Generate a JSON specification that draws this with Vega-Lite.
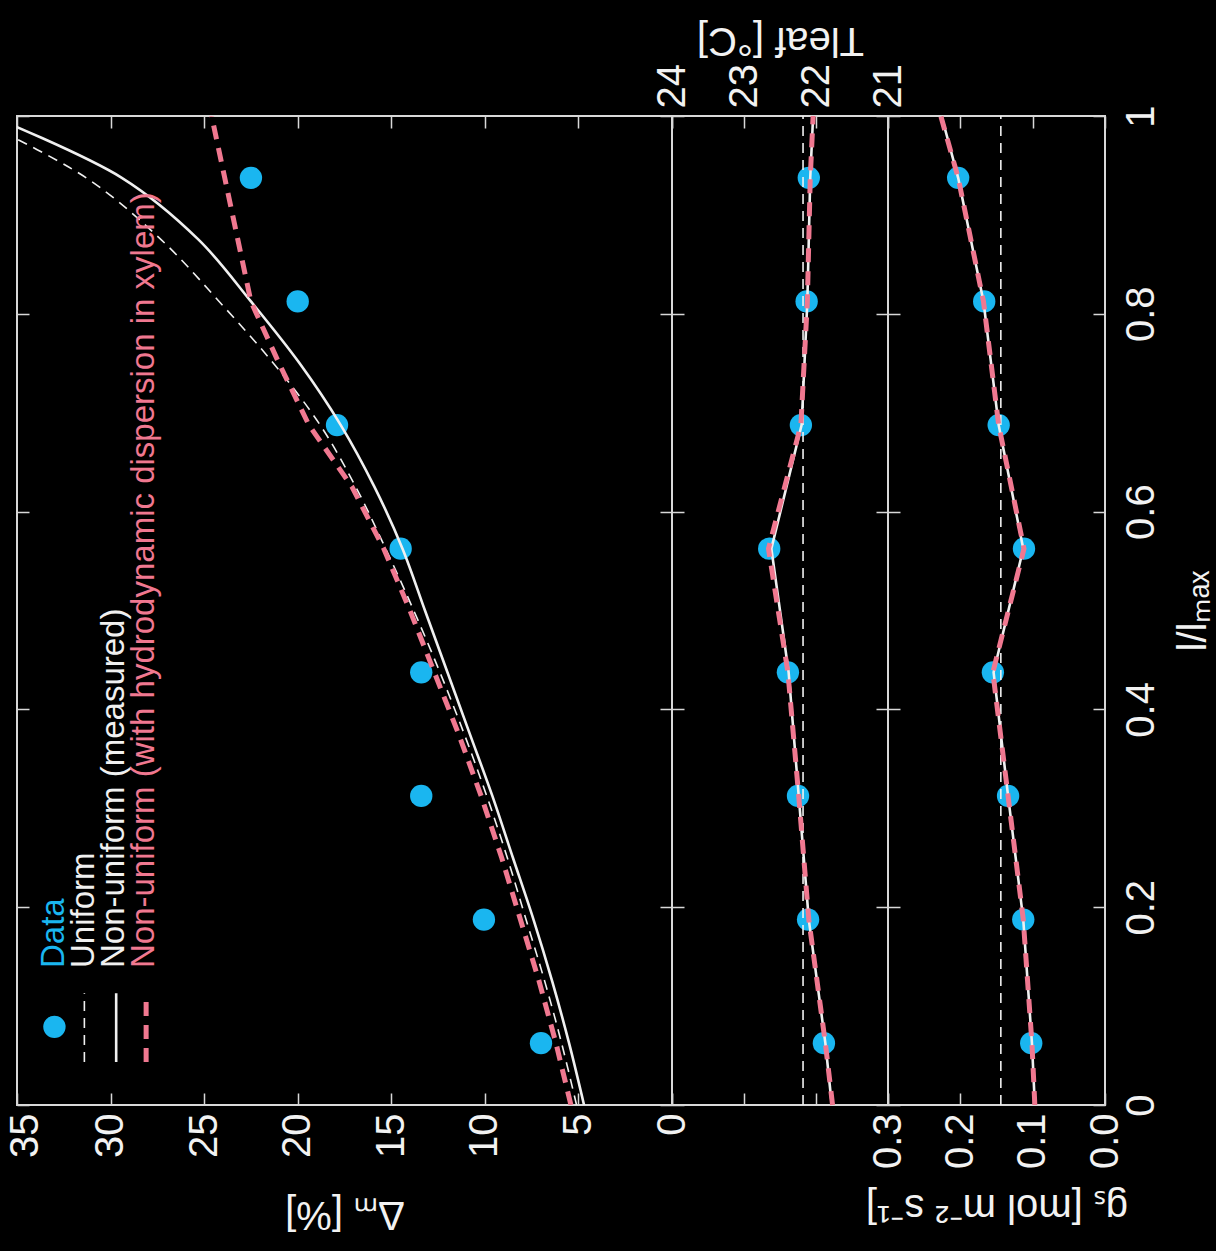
{
  "$schema": "https://vega.github.io/schema/vega-lite/v6.json",
  "background": "black",
  "padding": {"left": 4, "top": 18, "right": 2, "bottom": 16},
  "spacing": 0,
  "bounds": "flush",
  "config": {
    "view": {"stroke": "#d8d8d8", "strokeWidth": 2},
    "axis": {"domain": false, "grid": false, "tickColor": "#d8d8d8", "tickWidth": 1.5, "tickSize": -12, "labelColor": "#f2f2f2", "titleColor": "#f2f2f2", "labelFont": "Liberation Sans", "titleFont": "Liberation Sans", "labelFontSize": 40, "titleFontSize": 40, "titleFontWeight": "normal"},
    "text": {"font": "Liberation Sans"}
  },
  "datasets": {
    "dpts": [
      {"l": 0.0625, "v": 7.0}, {"l": 0.1875, "v": 10.05}, {"l": 0.3125, "v": 13.4}, {"l": 0.4375, "v": 13.4},
      {"l": 0.5625, "v": 14.5}, {"l": 0.6875, "v": 17.9}, {"l": 0.8125, "v": 20.0}, {"l": 0.9375, "v": 22.5}
    ],
    "dcur": [
      {"s": "uniform", "l": 0, "v": 5.1}, {"s": "uniform", "l": 0.0625, "v": 5.9}, {"s": "uniform", "l": 0.125, "v": 6.8}, {"s": "uniform", "l": 0.1875, "v": 7.8}, {"s": "uniform", "l": 0.25, "v": 8.8}, {"s": "uniform", "l": 0.3125, "v": 9.9}, {"s": "uniform", "l": 0.375, "v": 11.1}, {"s": "uniform", "l": 0.4375, "v": 12.4}, {"s": "uniform", "l": 0.5, "v": 13.8}, {"s": "uniform", "l": 0.5625, "v": 15.3}, {"s": "uniform", "l": 0.625, "v": 16.9}, {"s": "uniform", "l": 0.6875, "v": 18.8}, {"s": "uniform", "l": 0.75, "v": 21.3}, {"s": "uniform", "l": 0.8125, "v": 24.2}, {"s": "uniform", "l": 0.875, "v": 27.3}, {"s": "uniform", "l": 0.9375, "v": 31.3}, {"s": "uniform", "l": 1, "v": 37.5},
      {"s": "measured", "l": 0, "v": 4.7}, {"s": "measured", "l": 0.0625, "v": 5.5}, {"s": "measured", "l": 0.125, "v": 6.4}, {"s": "measured", "l": 0.1875, "v": 7.4}, {"s": "measured", "l": 0.25, "v": 8.5}, {"s": "measured", "l": 0.3125, "v": 9.6}, {"s": "measured", "l": 0.375, "v": 10.8}, {"s": "measured", "l": 0.4375, "v": 12.0}, {"s": "measured", "l": 0.5, "v": 13.2}, {"s": "measured", "l": 0.5625, "v": 14.4}, {"s": "measured", "l": 0.625, "v": 15.9}, {"s": "measured", "l": 0.6875, "v": 17.7}, {"s": "measured", "l": 0.75, "v": 19.9}, {"s": "measured", "l": 0.8125, "v": 22.5}, {"s": "measured", "l": 0.875, "v": 25.3}, {"s": "measured", "l": 0.9375, "v": 29.4}, {"s": "measured", "l": 1, "v": 36.4},
      {"s": "xylem", "l": 0, "v": 5.4}, {"s": "xylem", "l": 0.0625, "v": 6.2}, {"s": "xylem", "l": 0.125, "v": 7.1}, {"s": "xylem", "l": 0.1875, "v": 8.1}, {"s": "xylem", "l": 0.25, "v": 9.1}, {"s": "xylem", "l": 0.3125, "v": 10.2}, {"s": "xylem", "l": 0.375, "v": 11.4}, {"s": "xylem", "l": 0.4375, "v": 12.7}, {"s": "xylem", "l": 0.5, "v": 14.0}, {"s": "xylem", "l": 0.5625, "v": 15.4}, {"s": "xylem", "l": 0.625, "v": 17.1}, {"s": "xylem", "l": 0.6875, "v": 19.4}, {"s": "xylem", "l": 0.75, "v": 21.0}, {"s": "xylem", "l": 0.8125, "v": 22.5}, {"s": "xylem", "l": 0.875, "v": 23.2}, {"s": "xylem", "l": 0.9375, "v": 23.9}, {"s": "xylem", "l": 1, "v": 24.6}
    ],
    "tpts": [
      {"l": 0.0625, "v": 21.89}, {"l": 0.1875, "v": 22.11}, {"l": 0.3125, "v": 22.25}, {"l": 0.4375, "v": 22.39},
      {"l": 0.5625, "v": 22.65}, {"l": 0.6875, "v": 22.21}, {"l": 0.8125, "v": 22.13}, {"l": 0.9375, "v": 22.1}
    ],
    "tcur": [
      {"s": "uniform", "l": 0, "v": 22.18}, {"s": "uniform", "l": 1, "v": 22.18},
      {"s": "measured", "l": 0, "v": 21.78}, {"s": "measured", "l": 0.0625, "v": 21.87}, {"s": "measured", "l": 0.1875, "v": 22.1}, {"s": "measured", "l": 0.3125, "v": 22.24}, {"s": "measured", "l": 0.4375, "v": 22.38}, {"s": "measured", "l": 0.5625, "v": 22.62}, {"s": "measured", "l": 0.6875, "v": 22.2}, {"s": "measured", "l": 0.8125, "v": 22.12}, {"s": "measured", "l": 0.9375, "v": 22.08}, {"s": "measured", "l": 1, "v": 22.04},
      {"s": "xylem", "l": 0, "v": 21.77}, {"s": "xylem", "l": 0.0625, "v": 21.87}, {"s": "xylem", "l": 0.1875, "v": 22.1}, {"s": "xylem", "l": 0.3125, "v": 22.24}, {"s": "xylem", "l": 0.4375, "v": 22.39}, {"s": "xylem", "l": 0.5625, "v": 22.66}, {"s": "xylem", "l": 0.6875, "v": 22.21}, {"s": "xylem", "l": 0.8125, "v": 22.12}, {"s": "xylem", "l": 0.9375, "v": 22.08}, {"s": "xylem", "l": 1, "v": 22.04}
    ],
    "gpts": [
      {"l": 0.0625, "v": 0.102}, {"l": 0.1875, "v": 0.113}, {"l": 0.3125, "v": 0.134}, {"l": 0.4375, "v": 0.155},
      {"l": 0.5625, "v": 0.112}, {"l": 0.6875, "v": 0.147}, {"l": 0.8125, "v": 0.167}, {"l": 0.9375, "v": 0.203}
    ],
    "gcur": [
      {"s": "uniform", "l": 0, "v": 0.144}, {"s": "uniform", "l": 1, "v": 0.144},
      {"s": "measured", "l": 0, "v": 0.097}, {"s": "measured", "l": 0.0625, "v": 0.101}, {"s": "measured", "l": 0.1875, "v": 0.113}, {"s": "measured", "l": 0.3125, "v": 0.134}, {"s": "measured", "l": 0.4375, "v": 0.154}, {"s": "measured", "l": 0.5625, "v": 0.113}, {"s": "measured", "l": 0.6875, "v": 0.147}, {"s": "measured", "l": 0.8125, "v": 0.168}, {"s": "measured", "l": 0.9375, "v": 0.203}, {"s": "measured", "l": 1, "v": 0.226},
      {"s": "xylem", "l": 0, "v": 0.097}, {"s": "xylem", "l": 0.0625, "v": 0.101}, {"s": "xylem", "l": 0.1875, "v": 0.113}, {"s": "xylem", "l": 0.3125, "v": 0.134}, {"s": "xylem", "l": 0.4375, "v": 0.155}, {"s": "xylem", "l": 0.5625, "v": 0.112}, {"s": "xylem", "l": 0.6875, "v": 0.147}, {"s": "xylem", "l": 0.8125, "v": 0.168}, {"s": "xylem", "l": 0.9375, "v": 0.203}, {"s": "xylem", "l": 1, "v": 0.227}
    ],
    "one": [{}]
  },
  "hconcat": [
    {
      "width": 655, "height": 989,
      "resolve": {"axis": {"x": "independent", "y": "independent"}},
      "layer": [
        {
          "data": {"name": "dpts"},
          "mark": {"type": "circle", "size": 500, "color": "#1ab6f0", "opacity": 1},
          "encoding": {
            "x": {"field": "v", "type": "quantitative", "scale": {"domain": [0, 35], "reverse": true, "nice": false},
                  "axis": {"orient": "bottom", "values": [0, 5, 10, 15, 20, 25, 30, 35], "labelAngle": 270, "labelAlign": "right", "labelBaseline": "middle", "labelPadding": 20, "labelOffset": {"condition": {"test": "datum.value == 35", "value": 8}, "value": 0}, "title": "Δₘ [%]", "titleAngle": 180, "titleBaseline": "bottom", "titlePadding": 36}},
            "y": {"field": "l", "type": "quantitative", "scale": {"domain": [0, 1], "nice": false},
                  "axis": {"orient": "left", "values": [0, 0.2, 0.4, 0.6, 0.8, 1], "labels": false, "title": null}}
          }
        },
        {
          "data": {"name": "dcur"},
          "transform": [{"filter": "datum.s == 'uniform'"}],
          "mark": {"type": "line", "color": "#f0f0f0", "strokeWidth": 1.6, "strokeDash": [10, 7], "clip": true, "interpolate": "catmull-rom"},
          "encoding": {
            "x": {"field": "v", "type": "quantitative", "scale": {"domain": [0, 35], "reverse": true, "nice": false},
                  "axis": {"orient": "top", "values": [0, 5, 10, 15, 20, 25, 30, 35], "labels": false, "title": null}},
            "y": {"field": "l", "type": "quantitative", "scale": {"domain": [0, 1], "nice": false},
                  "axis": {"orient": "right", "values": [0, 0.2, 0.4, 0.6, 0.8, 1], "labels": false, "title": null}},
            "order": {"field": "l", "type": "quantitative"}
          }
        },
        {
          "data": {"name": "dcur"},
          "transform": [{"filter": "datum.s == 'measured'"}],
          "mark": {"type": "line", "color": "#f0f0f0", "strokeWidth": 2.6, "clip": true, "interpolate": "catmull-rom"},
          "encoding": {
            "x": {"field": "v", "type": "quantitative", "scale": {"domain": [0, 35], "reverse": true, "nice": false}, "axis": null},
            "y": {"field": "l", "type": "quantitative", "scale": {"domain": [0, 1], "nice": false}, "axis": null},
            "order": {"field": "l", "type": "quantitative"}
          }
        },
        {
          "data": {"name": "dcur"},
          "transform": [{"filter": "datum.s == 'xylem'"}],
          "mark": {"type": "line", "color": "#f07890", "strokeWidth": 5, "strokeDash": [14, 9], "clip": true},
          "encoding": {
            "x": {"field": "v", "type": "quantitative", "scale": {"domain": [0, 35], "reverse": true, "nice": false}, "axis": null},
            "y": {"field": "l", "type": "quantitative", "scale": {"domain": [0, 1], "nice": false}, "axis": null},
            "order": {"field": "l", "type": "quantitative"}
          }
        },
        {
          "data": {"name": "one"},
          "mark": {"type": "circle", "size": 500, "color": "#1ab6f0", "opacity": 1},
          "encoding": {
            "x": {"datum": 33.0, "type": "quantitative", "scale": {"domain": [0, 35], "reverse": true, "nice": false}, "axis": null},
            "y": {"datum": 0.079, "type": "quantitative", "scale": {"domain": [0, 1], "nice": false}, "axis": null}
          }
        },
        {
          "data": {"name": "one"},
          "mark": {"type": "rule", "color": "#f0f0f0", "strokeWidth": 1.6, "strokeDash": [10, 7]},
          "encoding": {
            "x": {"datum": 31.4, "type": "quantitative", "scale": {"domain": [0, 35], "reverse": true, "nice": false}, "axis": null},
            "y": {"datum": 0.0435, "type": "quantitative", "scale": {"domain": [0, 1], "nice": false}, "axis": null},
            "y2": {"datum": 0.113}
          }
        },
        {
          "data": {"name": "one"},
          "mark": {"type": "rule", "color": "#f0f0f0", "strokeWidth": 2.6},
          "encoding": {
            "x": {"datum": 29.7, "type": "quantitative", "scale": {"domain": [0, 35], "reverse": true, "nice": false}, "axis": null},
            "y": {"datum": 0.0435, "type": "quantitative", "scale": {"domain": [0, 1], "nice": false}, "axis": null},
            "y2": {"datum": 0.113}
          }
        },
        {
          "data": {"name": "one"},
          "mark": {"type": "rule", "color": "#f07890", "strokeWidth": 5, "strokeDash": [14, 9]},
          "encoding": {
            "x": {"datum": 28.1, "type": "quantitative", "scale": {"domain": [0, 35], "reverse": true, "nice": false}, "axis": null},
            "y": {"datum": 0.0435, "type": "quantitative", "scale": {"domain": [0, 1], "nice": false}, "axis": null},
            "y2": {"datum": 0.113}
          }
        },
        {
          "data": {"name": "one"},
          "mark": {"type": "text", "angle": 270, "align": "left", "baseline": "middle", "fontSize": 33, "color": "#1ab6f0"},
          "encoding": {
            "x": {"datum": 33.0, "type": "quantitative", "scale": {"domain": [0, 35], "reverse": true, "nice": false}, "axis": null},
            "y": {"datum": 0.1385, "type": "quantitative", "scale": {"domain": [0, 1], "nice": false}, "axis": null},
            "text": {"value": "Data"}
          }
        },
        {
          "data": {"name": "one"},
          "mark": {"type": "text", "angle": 270, "align": "left", "baseline": "middle", "fontSize": 33, "color": "#f0f0f0"},
          "encoding": {
            "x": {"datum": 31.4, "type": "quantitative", "scale": {"domain": [0, 35], "reverse": true, "nice": false}, "axis": null},
            "y": {"datum": 0.1385, "type": "quantitative", "scale": {"domain": [0, 1], "nice": false}, "axis": null},
            "text": {"value": "Uniform"}
          }
        },
        {
          "data": {"name": "one"},
          "mark": {"type": "text", "angle": 270, "align": "left", "baseline": "middle", "fontSize": 33, "color": "#f0f0f0"},
          "encoding": {
            "x": {"datum": 29.8, "type": "quantitative", "scale": {"domain": [0, 35], "reverse": true, "nice": false}, "axis": null},
            "y": {"datum": 0.1385, "type": "quantitative", "scale": {"domain": [0, 1], "nice": false}, "axis": null},
            "text": {"value": "Non-uniform (measured)"}
          }
        },
        {
          "data": {"name": "one"},
          "mark": {"type": "text", "angle": 270, "align": "left", "baseline": "middle", "fontSize": 33, "color": "#f07890"},
          "encoding": {
            "x": {"datum": 28.2, "type": "quantitative", "scale": {"domain": [0, 35], "reverse": true, "nice": false}, "axis": null},
            "y": {"datum": 0.1385, "type": "quantitative", "scale": {"domain": [0, 1], "nice": false}, "axis": null},
            "text": {"value": "Non-uniform (with hydrodynamic dispersion in xylem)"}
          }
        }
      ]
    },
    {
      "width": 216, "height": 989,
      "resolve": {"axis": {"x": "independent", "y": "independent"}},
      "layer": [
        {
          "data": {"name": "tpts"},
          "mark": {"type": "circle", "size": 500, "color": "#1ab6f0", "opacity": 1},
          "encoding": {
            "x": {"field": "v", "type": "quantitative", "scale": {"domain": [21, 24], "reverse": true, "nice": false},
                  "axis": {"orient": "top", "values": [21, 22, 23, 24], "labelAngle": 270, "labelAlign": "left", "labelBaseline": "middle", "labelPadding": 20, "title": "Tleaf [°C]", "titleAngle": 180, "titleBaseline": "top", "titlePadding": 4}},
            "y": {"field": "l", "type": "quantitative", "scale": {"domain": [0, 1], "nice": false},
                  "axis": {"orient": "left", "values": [0, 0.2, 0.4, 0.6, 0.8, 1], "labels": false, "title": null}}
          }
        },
        {
          "data": {"name": "tcur"},
          "transform": [{"filter": "datum.s == 'uniform'"}],
          "mark": {"type": "line", "color": "#f0f0f0", "strokeWidth": 1.6, "strokeDash": [10, 7]},
          "encoding": {
            "x": {"field": "v", "type": "quantitative", "scale": {"domain": [21, 24], "reverse": true, "nice": false},
                  "axis": {"orient": "bottom", "values": [21, 22, 23, 24], "labels": false, "title": null}},
            "y": {"field": "l", "type": "quantitative", "scale": {"domain": [0, 1], "nice": false},
                  "axis": {"orient": "right", "values": [0, 0.2, 0.4, 0.6, 0.8, 1], "labels": false, "title": null}},
            "order": {"field": "l", "type": "quantitative"}
          }
        },
        {
          "data": {"name": "tcur"},
          "transform": [{"filter": "datum.s == 'measured'"}],
          "mark": {"type": "line", "color": "#f0f0f0", "strokeWidth": 2.6},
          "encoding": {
            "x": {"field": "v", "type": "quantitative", "scale": {"domain": [21, 24], "reverse": true, "nice": false}, "axis": null},
            "y": {"field": "l", "type": "quantitative", "scale": {"domain": [0, 1], "nice": false}, "axis": null},
            "order": {"field": "l", "type": "quantitative"}
          }
        },
        {
          "data": {"name": "tcur"},
          "transform": [{"filter": "datum.s == 'xylem'"}],
          "mark": {"type": "line", "color": "#f07890", "strokeWidth": 5, "strokeDash": [14, 9]},
          "encoding": {
            "x": {"field": "v", "type": "quantitative", "scale": {"domain": [21, 24], "reverse": true, "nice": false}, "axis": null},
            "y": {"field": "l", "type": "quantitative", "scale": {"domain": [0, 1], "nice": false}, "axis": null},
            "order": {"field": "l", "type": "quantitative"}
          }
        }
      ]
    },
    {
      "width": 217, "height": 989,
      "resolve": {"axis": {"x": "independent", "y": "independent"}},
      "layer": [
        {
          "data": {"name": "gpts"},
          "mark": {"type": "circle", "size": 500, "color": "#1ab6f0", "opacity": 1},
          "encoding": {
            "x": {"field": "v", "type": "quantitative", "scale": {"domain": [0, 0.3], "reverse": true, "nice": false},
                  "axis": {"orient": "bottom", "values": [0, 0.1, 0.2, 0.3], "format": ".1f", "labelAngle": 270, "labelAlign": "right", "labelBaseline": "middle", "labelPadding": 20, "title": "gₛ [mol m⁻² s⁻¹]", "titleAngle": 180, "titleBaseline": "bottom", "titlePadding": 18}},
            "y": {"field": "l", "type": "quantitative", "scale": {"domain": [0, 1], "nice": false},
                  "axis": {"orient": "left", "values": [0, 0.2, 0.4, 0.6, 0.8, 1], "labels": false, "title": null}}
          }
        },
        {
          "data": {"name": "gcur"},
          "transform": [{"filter": "datum.s == 'uniform'"}],
          "mark": {"type": "line", "color": "#f0f0f0", "strokeWidth": 1.6, "strokeDash": [10, 7]},
          "encoding": {
            "x": {"field": "v", "type": "quantitative", "scale": {"domain": [0, 0.3], "reverse": true, "nice": false},
                  "axis": {"orient": "top", "values": [0, 0.1, 0.2, 0.3], "labels": false, "title": null}},
            "y": {"field": "l", "type": "quantitative", "scale": {"domain": [0, 1], "nice": false},
                  "axis": {"orient": "right", "values": [0, 0.2, 0.4, 0.6, 0.8, 1], "format": "~g", "labelAngle": 270, "labelAlign": "center", "labelBaseline": "top", "labelPadding": 28, "title": "l/lₘₐₓ", "titleAngle": 270, "titleBaseline": "top", "titlePadding": 12}},
            "order": {"field": "l", "type": "quantitative"}
          }
        },
        {
          "data": {"name": "gcur"},
          "transform": [{"filter": "datum.s == 'measured'"}],
          "mark": {"type": "line", "color": "#f0f0f0", "strokeWidth": 2.6},
          "encoding": {
            "x": {"field": "v", "type": "quantitative", "scale": {"domain": [0, 0.3], "reverse": true, "nice": false}, "axis": null},
            "y": {"field": "l", "type": "quantitative", "scale": {"domain": [0, 1], "nice": false}, "axis": null},
            "order": {"field": "l", "type": "quantitative"}
          }
        },
        {
          "data": {"name": "gcur"},
          "transform": [{"filter": "datum.s == 'xylem'"}],
          "mark": {"type": "line", "color": "#f07890", "strokeWidth": 5, "strokeDash": [14, 9]},
          "encoding": {
            "x": {"field": "v", "type": "quantitative", "scale": {"domain": [0, 0.3], "reverse": true, "nice": false}, "axis": null},
            "y": {"field": "l", "type": "quantitative", "scale": {"domain": [0, 1], "nice": false}, "axis": null},
            "order": {"field": "l", "type": "quantitative"}
          }
        }
      ]
    }
  ]
}
